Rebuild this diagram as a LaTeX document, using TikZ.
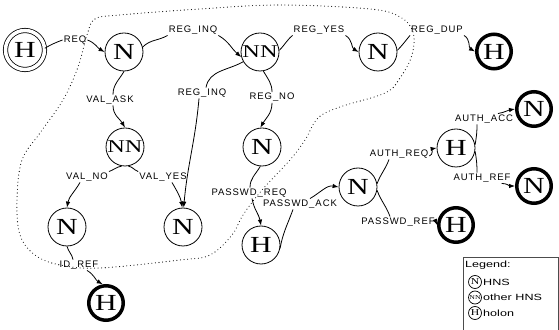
\documentclass[tikz,border=0pt]{standalone}
\usepackage{fontspec}
\usepackage{graphicx}
\usetikzlibrary{arrows.meta}
\newfontfamily\lblfont[LetterSpace=10]{Liberation Sans}
\newfontfamily\legfont[FakeStretch=1.4]{Liberation Sans}
\newfontfamily\circfont[FakeStretch=1.3]{Liberation Serif}
\newfontfamily\circnnfont[FakeStretch=1.35]{Liberation Serif}
\begin{document}
\begin{tikzpicture}[x=1pt,y=1pt,
  st/.style={circle,draw,line width=0.8pt,minimum size=38pt,inner sep=0pt,font=\circfont\fontsize{23}{23}\selectfont},
  stnn/.style={circle,draw,line width=0.8pt,minimum size=38pt,inner sep=0pt,font=\circnnfont\fontsize{18}{18}\selectfont},
  endst/.style={circle,draw,line width=3.5pt,minimum size=34.5pt,inner sep=0pt,font=\circfont\fontsize{23}{23}\selectfont},
  startst/.style={circle,draw,line width=0.8pt,double,double distance=3.5pt,minimum size=39pt,inner sep=0pt,font=\circfont\fontsize{23}{23}\selectfont},
  lbl/.style={inner sep=1pt,font=\lblfont\fontsize{9.5}{10}\selectfont},
  conn/.style={line width=0.8pt},
  arr/.style={conn,-{Latex[length=6pt,width=4.5pt]}},
  legc/.style={circle,draw,line width=0.7pt,minimum size=13pt,inner sep=0pt,font=\circfont\fontsize{9}{9}\selectfont},
  legt/.style={inner sep=0pt,anchor=west,font=\legfont\fontsize{9}{9}\selectfont},
]
\useasboundingbox[fill=white] (0,0) rectangle (559,329);

% boundary
\draw[line width=1.1pt,dash pattern=on 0pt off 3.6pt,line cap=round]
  plot[smooth cycle,tension=0.6] coordinates {
  (87,294) (95,310) (120,314) (200,320) (280,324) (370,320) (400,312) (413,297)
  (412,274) (400,251) (385,236) (340,222) (318,211) (305,189) (290,169) (262,139)
  (243,114) (232,94) (210,74) (180,69) (100,61) (60,64) (35,74) (20,94) (17,129)
  (22,169) (40,196) (63,229) (78,262)};

% states
\node[startst] (H0) at (25,279) {H};
\node[st] (N1) at (124,277) {N};
\node[stnn] (NN2) at (260,277) {NN};
\node[st] (N3) at (378,277) {N};
\node[endst] (H4) at (494,277.5) {H};
\node[stnn] (NN5) at (125,182) {NN};
\node[st] (N6) at (262,182) {N};
\node[st] (N7) at (67,102) {N};
\node[st] (N8) at (183,102) {N};
\node[st] (H9) at (261,84) {H};
\node[st] (N10) at (358,142) {N};
\node[st] (H11) at (456,181) {H};
\node[endst] (N12) at (534,220) {N};
\node[endst] (N13) at (534,143) {N};
\node[endst] (H14) at (456,104) {H};
\node[endst] (H15) at (106,26) {H};

% labels
\node[lbl] (REQ) at (75,289) {REQ};
\node[lbl] (REGINQa) at (193,299) {REG\_INQ};
\node[lbl] (REGYES) at (319,299) {REG\_YES};
\node[lbl] (REGDUP) at (437,299) {REG\_DUP};
\node[lbl] (VALASK) at (110,229) {VAL\_ASK};
\node[lbl] (REGINQb) at (202,236) {REG\_INQ};
\node[lbl] (REGNO) at (272,231.5) {REG\_NO};
\node[lbl] (VALNO) at (87,152) {VAL\_NO};
\node[lbl] (VALYES) at (163,152) {VAL\_YES};
\node[lbl] (PASSWDREQ) at (249,136) {PASSWD\_REQ};
\node[lbl] (PASSWDACK) at (300,125) {PASSWD\_ACK};
\node[lbl] (AUTHREQ) at (399,175) {AUTH\_REQ};
\node[lbl] (PASSWDREF) at (398,107) {PASSWD\_REF};
\node[lbl] (AUTHACC) at (484,210) {AUTH\_ACC};
\node[lbl] (AUTHREF) at (482,151) {AUTH\_REF};
\node[lbl] (IDREF) at (79,64) {ID\_REF};

% connectors
\draw[conn] (H0.5) to[out=30,in=200] (REQ.west);
\draw[arr] (REQ.east) to[out=-20,in=150] (N1.180);

\draw[conn] (N1.15) to[out=45,in=210] (REGINQa.south west);
\draw[arr] (REGINQa.south east) to[out=-30,in=140] (NN2.195);

\draw[conn] (NN2.5) to[out=45,in=220] (REGYES.south west);
\draw[arr] (REGYES.south east) to[out=-30,in=150] (N3.180);

\draw[conn] (N3.5) to[out=45,in=230] (REGDUP.south west);
\draw[arr] (REGDUP.south east) to[out=-30,in=150] (H4.180);

\draw[conn] (N1.-90) to[out=-120,in=90] ([xshift=3pt]VALASK.north);
\draw[arr] ([xshift=3pt]VALASK.south) to[out=-90,in=120] (NN5.90);

\draw[conn] (NN2.210) to[out=210,in=80] ([xshift=4pt]REGINQb.north);
\draw[arr] ([xshift=-3pt]REGINQb.south) to[out=-95,in=85] (N8.88);

\draw[conn] (NN2.-80) to[out=-60,in=90] (REGNO.north);
\draw[arr] (REGNO.south) to[out=-90,in=60] (N6.95);

\draw[conn] (NN5.-100) to[out=190,in=20] (VALNO.north east);
\draw[conn] (NN5.-80) to[out=-10,in=160] (VALYES.north west);
\draw[arr] ([xshift=-7pt]VALNO.south) to[out=-120,in=80] (N7.90);
\draw[arr] ([xshift=9pt]VALYES.south) to[out=-60,in=100] (N8.92);

\draw[conn] (N6.-95) to[out=-120,in=90] ([xshift=1pt]PASSWDREQ.north);
\draw[arr] ([xshift=3pt]PASSWDREQ.south) to[out=-80,in=100] (H9.90);

\draw[conn] (H9.-10) to[out=80,in=-110] ([xshift=-7pt]PASSWDACK.south);
\draw[arr] ([xshift=10pt]PASSWDACK.north) to[out=30,in=170] (N10.180);

\draw[conn] (N10.10) to[out=70,in=-110] ([xshift=-10pt]AUTHREQ.south);
\draw[arr] ([yshift=-2pt]AUTHREQ.east) to[out=20,in=190] (H11.180);

\draw[conn] (N10.-10) to[out=-70,in=110] ([xshift=-8pt]PASSWDREF.north);
\draw[arr] (PASSWDREF.east) -- (H14.180);

\draw[conn] (H11.10) to[out=80,in=-90] ([xshift=-7pt]AUTHACC.south);
\draw[arr] ([xshift=14pt]AUTHACC.north) to[out=10,in=190] (N12.180);

\draw[conn] (H11.-10) to[out=-80,in=90] ([xshift=-5pt]AUTHREF.north);
\draw[arr] ([xshift=-10pt]AUTHREF.south east) to[out=0,in=180] (N13.180);

\draw[conn] (N7.-90) to[out=-75,in=100] ([xshift=-6pt]IDREF.north);
\draw[arr] ([xshift=8pt]IDREF.south) to[out=-30,in=150] (H15.100);

% legend
\draw[line width=0.6pt,draw=black!70] (463,-1) |- (558.5,72) -- (558.5,-1);
\node[legt] (legtitle) at (465,64) {Legend:};
\node[legc] (lN) at (475,47) {N};
\node[legt] (lNt) at (483,47) {HNS};
\node[legc,font=\circfont\fontsize{6}{6}\selectfont] (lNN) at (475,31.5) {NN};
\node[legt] (lNNt) at (483,31.5) {other HNS};
\node[legc] (lH) at (475,16) {H};
\node[legt] (lHt) at (483,16) {holon};
\end{tikzpicture}
\end{document}
